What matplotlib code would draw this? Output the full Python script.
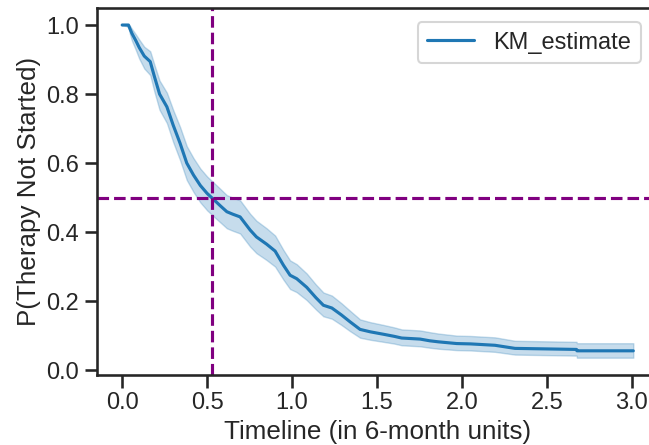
import numpy as np
import matplotlib.pyplot as plt
import seaborn as sns

# Kaplan-Meier estimate (time in 6-month units)
timeline = [0.0, 0.037, 0.045, 0.057, 0.08, 0.10, 0.13, 0.165, 0.19, 0.22,
            0.263, 0.30, 0.341, 0.38, 0.42, 0.46, 0.50, 0.537, 0.58, 0.616,
            0.65, 0.694, 0.753, 0.79, 0.85, 0.90, 0.949, 0.988, 1.027, 1.086,
            1.14, 1.184, 1.234, 1.29, 1.341, 1.40, 1.46, 1.537, 1.60, 1.645,
            1.753, 1.81, 1.861, 1.969, 2.05, 2.194, 2.312, 2.557, 2.674, 2.676,
            3.008]
km_estimate = [1.0, 1.0, 0.99, 0.976, 0.955, 0.935, 0.91, 0.894, 0.85, 0.80,
               0.763, 0.71, 0.657, 0.60, 0.565, 0.535, 0.512, 0.495, 0.475, 0.459,
               0.452, 0.444, 0.406, 0.386, 0.365, 0.345, 0.304, 0.275, 0.265, 0.240,
               0.21, 0.188, 0.180, 0.16, 0.140, 0.118, 0.111, 0.104, 0.098, 0.093,
               0.090, 0.085, 0.082, 0.077, 0.076, 0.072, 0.063, 0.061, 0.060, 0.056,
               0.056]
ci_lower = [1.0, 0.995, 0.975, 0.955, 0.928, 0.903, 0.874, 0.855, 0.806, 0.754,
            0.716, 0.661, 0.608, 0.551, 0.516, 0.486, 0.463, 0.446, 0.427, 0.411,
            0.404, 0.396, 0.358, 0.339, 0.319, 0.300, 0.262, 0.235, 0.226, 0.203,
            0.176, 0.156, 0.149, 0.131, 0.113, 0.094, 0.088, 0.082, 0.077, 0.072,
            0.069, 0.065, 0.062, 0.058, 0.057, 0.053, 0.045, 0.043, 0.042, 0.036,
            0.036]
ci_upper = [1.0, 1.0, 0.998, 0.989, 0.973, 0.958, 0.937, 0.924, 0.884, 0.839,
            0.804, 0.754, 0.704, 0.649, 0.614, 0.584, 0.561, 0.544, 0.524, 0.507,
            0.500, 0.492, 0.453, 0.433, 0.411, 0.390, 0.348, 0.318, 0.307, 0.280,
            0.248, 0.225, 0.216, 0.194, 0.172, 0.147, 0.139, 0.131, 0.124, 0.118,
            0.115, 0.110, 0.106, 0.100, 0.099, 0.095, 0.085, 0.083, 0.082, 0.078,
            0.078]

MEDIAN_T = 0.53
HALF = 0.5

sns.set_theme(style="ticks", context="talk")
plt.rcParams["font.family"] = ["Liberation Sans", "DejaVu Sans"]

fig = plt.figure(figsize=(6.49, 4.45), dpi=100)
ax = fig.add_axes([0.149, 0.157, 0.864, 0.824])

c = "#1f77b4"
ax.fill_between(timeline, ci_lower, ci_upper, color=c, alpha=0.25,
                linewidth=1)
ax.plot(timeline, km_estimate, color=c, label="KM_estimate")

ax.axhline(HALF, color="purple", ls="--")
ax.axvline(MEDIAN_T, color="purple", ls="--")

ax.set_xlim(-0.15, 3.15)
ax.set_ylim(-0.0145, 1.048)
ax.set_xticks([0.0, 0.5, 1.0, 1.5, 2.0, 2.5, 3.0])
ax.set_yticks([0.0, 0.2, 0.4, 0.6, 0.8, 1.0])
ax.tick_params(labelsize=17)
ax.set_xlabel("Timeline (in 6-month units)", fontsize=18.7)
ax.set_ylabel("P(Therapy Not Started)", fontsize=18.7)
ax.legend(loc="upper right", bbox_to_anchor=(0.991, 0.995), fontsize=17)

fig.savefig("out.png", dpi=100)
